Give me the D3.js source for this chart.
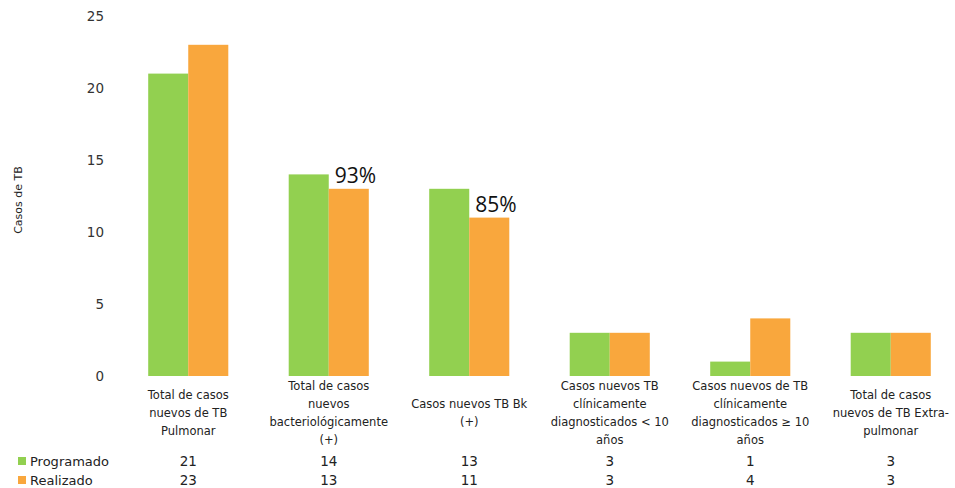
<!DOCTYPE html>
<html><head><meta charset="utf-8">
<script src="https://cdn.jsdelivr.net/npm/d3@7"></script>
<style>body{margin:0;background:#fff;}svg{display:block;}</style>
</head><body>
<svg id="c" width="955" height="488"></svg>
<script>
const categories = [
  ["Total de casos","nuevos de TB","Pulmonar"],
  ["Total de casos","nuevos","bacteriológicamente","(+)"],
  ["Casos nuevos TB Bk","(+)"],
  ["Casos nuevos TB","clínicamente","diagnosticados < 10","años"],
  ["Casos nuevos de TB","clínicamente","diagnosticados ≥ 10","años"],
  ["Total de casos","nuevos de TB  Extra-","pulmonar"]
];
const seriesNames = ["Programado","Realizado"];
const programado = [21,14,13,3,1,3];
const realizado = [23,13,11,3,4,3];
const yTicks = [0,5,10,15,20,25];
const annotations = [{cat:1, text:"93%"},{cat:2, text:"85%"}];
const colors = ["#92D050","#F9A73D"];

const svg = d3.select("#c");
const font = "'DejaVu Sans', sans-serif";
const x = d3.scaleBand().domain(d3.range(categories.length)).range([118,961]).paddingInner(0.43).paddingOuter(0.215);
const xs = d3.scaleBand().domain([0,1]).range([0,x.bandwidth()]);
const y = d3.scaleLinear().domain([0,25]).range([376,16]);

const yAxis = d3.axisLeft(y).tickValues(yTicks).tickSize(0).tickPadding(0);
const ga = svg.append("g").attr("transform","translate(104,0)").call(yAxis);
ga.select(".domain").remove();
ga.selectAll("text").attr("font-family",font).attr("font-size",13.5).attr("fill","#333").attr("dy","0.32em");

svg.append("text").attr("transform","translate(22,200) rotate(-90)").attr("text-anchor","middle")
  .attr("font-family",font).attr("font-size",11).attr("fill","#222").text("Casos de TB");

const data = [programado, realizado];
const g = svg.append("g");
data.forEach((vals,si)=>{
  g.selectAll(".b"+si).data(vals).enter().append("rect")
    .attr("x",(d,i)=>x(i)+xs(si)).attr("width",xs.bandwidth())
    .attr("y",d=>y(d)).attr("height",d=>y(0)-y(d)).attr("fill",colors[si]);
});

annotations.forEach(a=>{
  svg.append("text").attr("x",x(a.cat)+xs(1)+6).attr("y",y(realizado[a.cat])-6)
   .attr("font-family","'Open Sans', sans-serif").attr("font-size",21).attr("fill","#111").text(a.text);
});

const lh = 17.7;
categories.forEach((lines,i)=>{
  const cx = x(i)+x.bandwidth()/2;
  const top = 413 - (lines.length-1)*lh/2;
  const t = svg.append("text").attr("text-anchor","middle").attr("font-family",font).attr("font-size",11.5).attr("fill","#222");
  lines.forEach((l,k)=>t.append("tspan").attr("x",cx).attr("y",top+k*lh).attr("dy","0.35em").text(l));
});

const rowsY = [461,480];
data.forEach((vals,si)=>{
  svg.append("rect").attr("x",18).attr("y",rowsY[si]-4).attr("width",8).attr("height",8).attr("fill",colors[si]);
  svg.append("text").attr("x",30).attr("y",rowsY[si]).attr("dy","0.35em").attr("font-family",font).attr("font-size",13).attr("font-weight","500").attr("fill","#222").text(seriesNames[si]);
  vals.forEach((v,i)=>{
    svg.append("text").attr("x",x(i)+x.bandwidth()/2).attr("y",rowsY[si]).attr("dy","0.35em").attr("text-anchor","middle")
     .attr("font-family",font).attr("font-size",13.5).attr("fill","#222").text(v);
  });
});
</script>
</body></html>
